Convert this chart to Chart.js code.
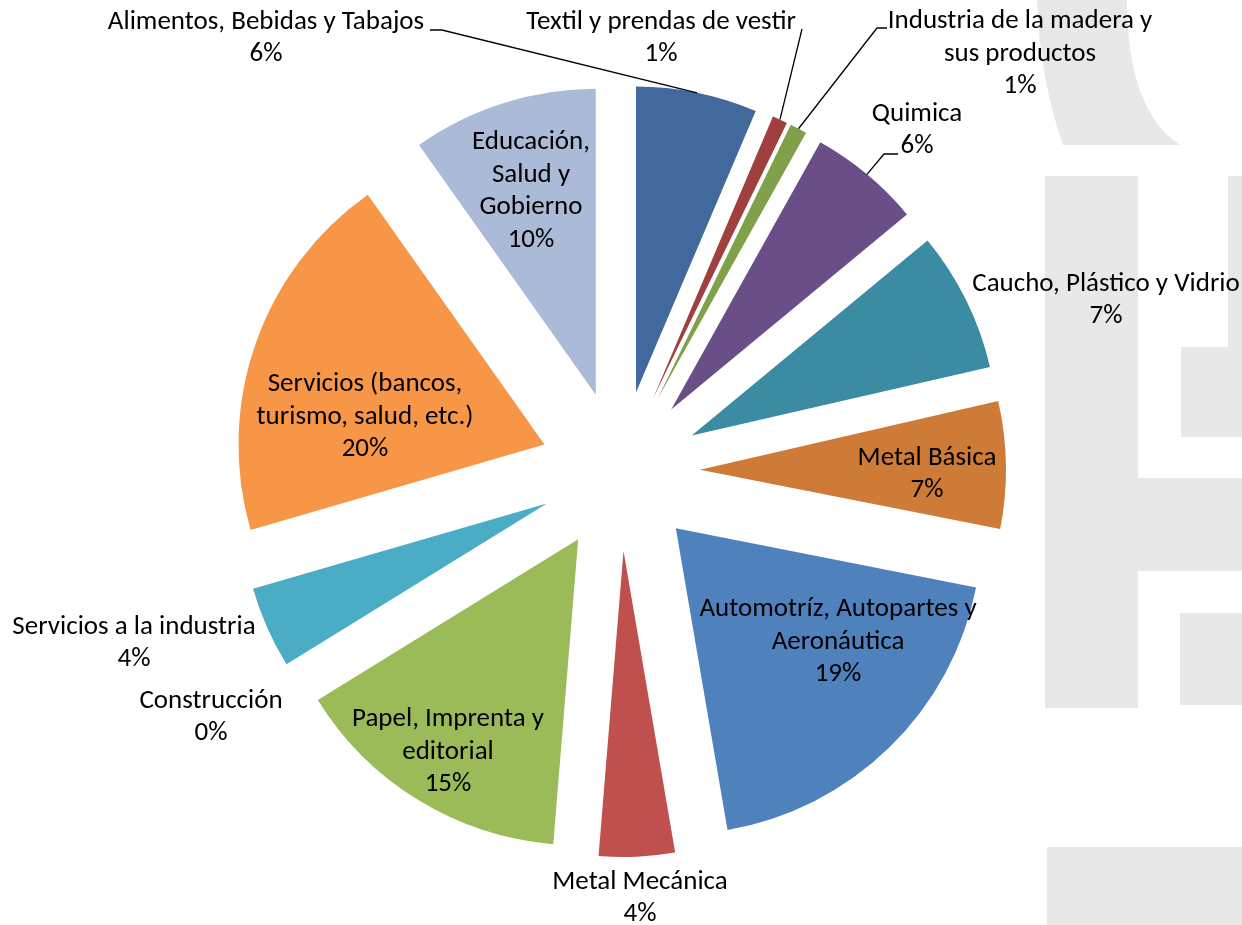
<!DOCTYPE html>
<html>
<head>
<meta charset="utf-8">
<script src="https://cdn.jsdelivr.net/npm/chart.js@4.4.0/dist/chart.umd.min.js"></script>
<style>
  html, body { margin: 0; padding: 0; background: #fff; }
  #wrap { width: 1242px; height: 925px; position: relative; }
</style>
</head>
<body>
<div id="wrap"><canvas id="myChart"></canvas></div>
<script>
// sectors, clockwise from 12 o'clock (label lines as Excel wrapped them)
var categories = [
    ['Alimentos, Bebidas y Tabajos'],
    ['Textil y prendas de vestir'],
    ['Industria de la madera y', 'sus productos'],
    ['Quimica'],
    ['Caucho, Plástico y Vidrio'],
    ['Metal Básica'],
    ['Automotríz, Autopartes y', 'Aeronáutica'],
    ['Metal Mecánica'],
    ['Papel, Imprenta y', 'editorial'],
    ['Construcción'],
    ['Servicios a la industria'],
    ['Servicios (bancos,', 'turismo, salud, etc.)'],
    ['Educación,', 'Salud y', 'Gobierno']
];
var shares = [6.4, 0.8, 0.9, 5.9, 7.4, 6.7, 19.2, 4.0, 14.9, 0, 4.3, 19.7, 9.8];
var colors = ['#41699c', '#a0403e', '#80a04a', '#6a4e87', '#3b8ba3', '#cf7b38',
              '#4f81bd', '#c0504d', '#9bbb59', '#8064a2', '#4bacc6', '#f79646', '#aabad7'];

var explode = 80;
// label block centres, relative to the pie centre
var labelAt = [[-354, -433], [41, -433], [400, -417], [297, -341], [486, -171], [307, 3],
               [218, 171], [20, 427], [-172, 281], [-409, 246], [-486, 172], [-255, -54], [-89, -280]];
// leader line bends, relative to the pie centre
var leaders = {
    0: [[-178, -441], [-190, -441]],
    1: [[182, -442]],
    2: [[257, -443], [267, -443]],
    3: [[264, -317], [278, -317]]
};
var lineH = 32.5;
var markGrey = '#e8e8e8';

var pieParts = {
    id: 'pieParts',
    beforeDraw: function (chart) {
        // faint logo in the background
        var ctx = chart.ctx;
        ctx.save();
        ctx.fillStyle = markGrey;
        ctx.beginPath();
        ctx.moveTo(1037, 0);
        ctx.quadraticCurveTo(1040, 80, 1063, 145);
        ctx.lineTo(1180, 145);
        ctx.quadraticCurveTo(1127, 110, 1127, 0);
        ctx.closePath();
        ctx.fill();
        ctx.fillRect(1045, 176, 93, 532);
        ctx.fillRect(1228, 176, 14, 171);
        ctx.fillRect(1181, 347, 61, 90);
        ctx.fillRect(1138, 478, 104, 93);
        ctx.fillRect(1180, 613, 62, 92);
        ctx.fillRect(1047, 847, 195, 78);
        ctx.restore();
    },
    beforeDatasetsDraw: function (chart) {
        // pull every slice out along its middle angle
        var ctx = chart.ctx;
        chart.getDatasetMeta(0).data.forEach(function (arc) {
            if (arc.circumference <= 0) return;
            var mid = (arc.startAngle + arc.endAngle) / 2;
            ctx.save();
            ctx.translate(Math.cos(mid) * explode, Math.sin(mid) * explode);
            arc.draw(ctx);
            ctx.restore();
        });
        return false;
    },
    afterDraw: function (chart) {
        var ctx = chart.ctx;
        var total = shares.reduce(function (a, b) { return a + b; }, 0);
        ctx.save();
        ctx.font = '27px Carlito, Calibri, Lato, sans-serif';
        ctx.fillStyle = '#000';
        ctx.strokeStyle = '#000';
        ctx.lineWidth = 1.3;
        ctx.textAlign = 'center';
        ctx.textBaseline = 'middle';
        chart.getDatasetMeta(0).data.forEach(function (arc, i) {
            var cx = arc.x, cy = arc.y;
            var lines = categories[i].concat([Math.round(shares[i] / total * 100) + '%']);
            var lx = cx + labelAt[i][0];
            var top = cy + labelAt[i][1] - (lines.length - 1) * lineH / 2;
            lines.forEach(function (t, k) {
                ctx.fillText(t, lx, top + k * lineH);
            });
            if (leaders[i]) {
                var mid = (arc.startAngle + arc.endAngle) / 2;
                var rr = explode + arc.outerRadius;
                ctx.beginPath();
                ctx.moveTo(cx + Math.cos(mid) * rr, cy + Math.sin(mid) * rr);
                leaders[i].forEach(function (p) {
                    ctx.lineTo(cx + p[0], cy + p[1]);
                });
                ctx.stroke();
            }
        });
        ctx.restore();
    }
};

var ctx = document.getElementById('myChart');
var myChart = new Chart(ctx, {
    type: 'pie',
    data: {
        labels: categories,
        datasets: [{
            data: shares,
            backgroundColor: colors,
            borderWidth: 0
        }]
    },
    options: {
        responsive: true,
        maintainAspectRatio: false,
        animation: false,
        events: [],
        radius: 306,
        layout: { padding: { left: 0, right: 2, top: 17, bottom: 0 } },
        plugins: {
            legend: { display: false },
            tooltip: { enabled: false }
        }
    },
    plugins: [pieParts]
});
</script>
</body>
</html>
